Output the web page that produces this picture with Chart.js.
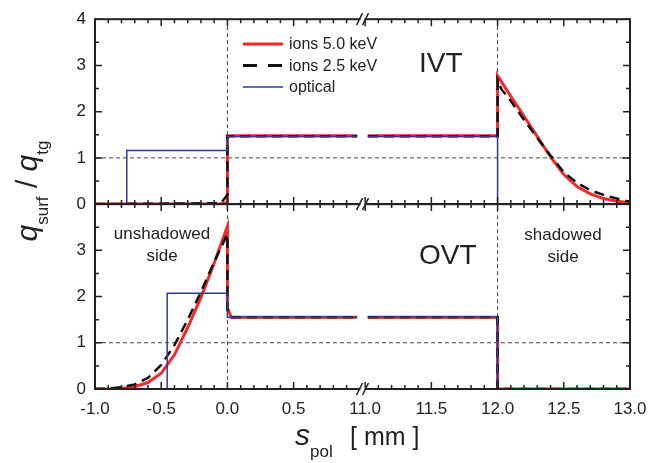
<!DOCTYPE html>
<html>
<head>
<meta charset="utf-8">
<script src="https://cdn.jsdelivr.net/npm/chart.js@4.4.1/dist/chart.umd.min.js"></script>
<style>
  body { margin: 0; background: #fff; }
  #wrap { width: 667px; height: 463px; }
</style>
</head>
<body>
<div id="wrap"><canvas id="myChart" width="667" height="463"></canvas></div>
<script>
// x values in mm (real s_pol), the axis is broken between 1.0 and 11.0
const xTickLabels = [-1.0, -0.5, 0.0, 0.5, 11.0, 11.5, 12.0, 12.5, 13.0];
const yTickLabels = [0, 1, 2, 3, 4];

// IVT (top panel)
const ivtRedX = [-1.0, -0.05, 0.0, 0.0, 0.98, 1.0, 11.02, 12.0, 12.0, 12.1, 12.2, 12.3, 12.4, 12.5, 12.6, 12.7, 12.8, 12.9, 13.0];
const ivtRedY = [0, 0.01, 0.03, 1.48, 1.48, null, 1.48, 1.48, 2.78, 2.33, 1.9, 1.46, 1.02, 0.64, 0.38, 0.22, 0.12, 0.06, 0.03];
const ivtBlackX = [-1.0, -0.05, 0.0, 0.0, 0.98, 1.0, 11.02, 12.0, 12.0, 12.03, 12.1, 12.2, 12.3, 12.4, 12.5, 12.6, 12.7, 12.8, 12.9, 13.0];
const ivtBlackY = [0, 0.02, 0.2, 1.47, 1.47, null, 1.47, 1.47, 2.68, 2.48, 2.23, 1.82, 1.43, 1.05, 0.69, 0.46, 0.3, 0.2, 0.12, 0.05];
const ivtBlueX = [-1.0, -0.76, -0.76, 0.0, 0.0, 0.98, 1.0, 11.02, 12.0, 12.0, 13.0];
const ivtBlueY = [0, 0, 1.16, 1.16, 1.46, 1.46, null, 1.46, 1.46, 0, 0];

// OVT (bottom panel)
const ovtRedX = [-1.0, -0.9, -0.8, -0.7, -0.6, -0.5, -0.4, -0.3, -0.2, -0.1, 0.0, 0.0, 0.03, 0.98, 1.0, 11.02, 12.0, 12.0, 13.0];
const ovtRedY = [0, 0, 0.01, 0.05, 0.14, 0.34, 0.74, 1.33, 1.98, 2.72, 3.52, 1.75, 1.55, 1.55, null, 1.55, 1.55, 0, 0];
const ovtBlackX = [-1.0, -0.9, -0.8, -0.7, -0.6, -0.5, -0.4, -0.3, -0.2, -0.1, 0.0, 0.0, 0.03, 0.98, 1.0, 11.02, 12.0, 12.0, 13.0];
const ovtBlackY = [0, 0.01, 0.04, 0.1, 0.24, 0.52, 0.95, 1.5, 2.1, 2.75, 3.35, 1.7, 1.55, 1.55, null, 1.55, 1.55, 0, 0];
const ovtBlueX = [-1.0, -0.455, -0.455, 0.0, 0.0, 0.98, 1.0, 11.02, 12.0, 12.0, 13.0];
const ovtBlueY = [0, 0, 2.07, 2.07, 1.55, 1.55, null, 1.55, 1.55, 0, 0];

const RED = '#f42828';
const BLACK = '#111111';
const BLUE = '#2c3c9c';
const FONT = '"Liberation Sans", Arial, sans-serif';
const TXT = '#222';

// axis break: map s to a continuous axis value
const brk = 0.04;
function mapS(s) {
    return s <= 1.0 ? s : s - 10 + brk;
}
function pts(xs, ys) {
    return xs.map((s, i) => ({ x: mapS(s), y: ys[i] }));
}

function line(label, xs, ys, axis, color, width, dash, order) {
    return {
        label: label,
        data: pts(xs, ys),
        yAxisID: axis,
        borderColor: color,
        backgroundColor: color,
        borderWidth: width,
        borderDash: dash,
        pointRadius: 0,
        tension: 0,
        order: order
    };
}

const decoPlugin = {
    id: 'deco',
    beforeDatasetsDraw(chart) {
        const ctx = chart.ctx;
        const ca = chart.chartArea;
        const x = chart.scales.x;
        ctx.save();
        ctx.strokeStyle = '#444';
        ctx.lineWidth = 1;
        ctx.setLineDash([4, 3]);
        ['yTop', 'yBot'].forEach(id => {
            const py = chart.scales[id].getPixelForValue(1);
            ctx.beginPath();
            ctx.moveTo(ca.left, py);
            ctx.lineTo(ca.right, py);
            ctx.stroke();
        });
        [0.0, 12.0].forEach(s => {
            const px = x.getPixelForValue(mapS(s));
            ctx.beginPath();
            ctx.moveTo(px, ca.top);
            ctx.lineTo(px, ca.bottom);
            ctx.stroke();
        });
        ctx.restore();
    },
    afterDatasetsDraw(chart) {
        const ctx = chart.ctx;
        const ca = chart.chartArea;
        const x = chart.scales.x;
        ctx.save();
        ctx.strokeStyle = '#222';
        ctx.lineWidth = 2;

        // x tick positions every 0.1 mm
        let xs = [];
        for (let i = -10; i <= 9; i++) xs.push(i / 10);
        for (let i = 110; i <= 130; i++) xs.push(i / 10);

        ['yTop', 'yBot'].forEach(id => {
            const sc = chart.scales[id];
            const top = sc.top, bot = sc.bottom;
            ctx.strokeRect(ca.left, top, ca.right - ca.left, bot - top);
            ctx.beginPath();
            xs.forEach(s => {
                const px = x.getPixelForValue(mapS(s));
                const major = Math.abs(s * 2 - Math.round(s * 2)) < 1e-6;
                const len = major ? 7 : 4;
                ctx.moveTo(px, bot); ctx.lineTo(px, bot - len);
                ctx.moveTo(px, top); ctx.lineTo(px, top + len);
            });
            for (let v = 0; v <= 4; v += 0.5) {
                const py = sc.getPixelForValue(v);
                const len = Number.isInteger(v) ? 7 : 4;
                ctx.moveTo(ca.left, py); ctx.lineTo(ca.left + len, py);
                ctx.moveTo(ca.right, py); ctx.lineTo(ca.right - len, py);
            }
            ctx.lineWidth = 1.5;
            ctx.stroke();
            ctx.lineWidth = 2;
        });

        // break marks //
        const bx = x.getPixelForValue(1.0 + brk / 2);
        ctx.lineWidth = 1.5;
        [ca.top, chart.scales.yTop.bottom, ca.bottom].forEach(by => {
            ctx.fillStyle = '#fff';
            ctx.fillRect(bx - 2, by - 2, 4, 4);
            ctx.beginPath();
            [-3, 3].forEach(d => {
                ctx.moveTo(bx + d - 3, by + 6);
                ctx.lineTo(bx + d + 3, by - 6);
            });
            ctx.stroke();
        });

        // legend
        const leg = [
            ['ions 5.0 keV', RED, 3, []],
            ['ions 2.5 keV', BLACK, 3, [14, 11]],
            ['optical', BLUE, 1.5, []]
        ];
        ctx.font = '16px ' + FONT;
        ctx.textBaseline = 'middle';
        ctx.textAlign = 'left';
        leg.forEach((l, i) => {
            const ly = 44 + i * 21.5;
            ctx.strokeStyle = l[1];
            ctx.lineWidth = l[2];
            ctx.setLineDash(l[3]);
            ctx.beginPath();
            ctx.moveTo(243, ly);
            ctx.lineTo(283, ly);
            ctx.stroke();
            ctx.setLineDash([]);
            ctx.fillStyle = TXT;
            ctx.fillText(l[0], 289, ly + 1);
        });

        // panel labels
        ctx.fillStyle = TXT;
        ctx.font = '28px ' + FONT;
        ctx.fillText('IVT', 419, 64);
        ctx.fillText('OVT', 419, 256);
        ctx.font = '17px ' + FONT;
        ctx.textAlign = 'center';
        ctx.fillText('unshadowed', 162, 234);
        ctx.fillText('side', 162, 256);
        ctx.fillText('shadowed', 563, 235);
        ctx.fillText('side', 563, 257);

        // axis titles with subscripts
        ctx.textAlign = 'left';
        ctx.textBaseline = 'alphabetic';
        const big = 'italic 30px ' + FONT;
        const sub = '17px ' + FONT;
        const norm = '30px ' + FONT;

        ctx.font = big;
        ctx.fillText('s', 295, 445);
        ctx.font = sub;
        ctx.fillText('pol', 310, 457);
        ctx.font = '25px ' + FONT;
        ctx.fillText('[ mm ]', 350, 445);

        const parts = [['q', big, 0], ['surf', sub, 11], [' / ', norm, 0], ['q', big, 0], ['tg', sub, 11]];
        let total = 0;
        parts.forEach(p => { ctx.font = p[1]; total += ctx.measureText(p[0]).width; });
        ctx.translate(37, 191);
        ctx.rotate(-Math.PI / 2);
        let cx = -total / 2;
        parts.forEach(p => {
            ctx.font = p[1];
            ctx.fillText(p[0], cx, p[2]);
            cx += ctx.measureText(p[0]).width;
        });
        ctx.restore();
    }
};

const ctx = document.getElementById('myChart');
const chart = new Chart(ctx, {
    type: 'line',
    data: {
        datasets: [
            line('ions 5.0 keV', ivtRedX, ivtRedY, 'yTop', RED, 3, [], 3),
            line('ions 2.5 keV', ivtBlackX, ivtBlackY, 'yTop', BLACK, 2.5, [10, 6], 2),
            line('optical', ivtBlueX, ivtBlueY, 'yTop', BLUE, 1.5, [], 1),
            line('ions 5.0 keV', ovtRedX, ovtRedY, 'yBot', RED, 3, [], 3),
            line('ions 2.5 keV', ovtBlackX, ovtBlackY, 'yBot', BLACK, 2.5, [10, 6], 2),
            line('optical', ovtBlueX, ovtBlueY, 'yBot', BLUE, 1.5, [], 1)
        ]
    },
    options: {
        responsive: false,
        animation: false,
        devicePixelRatio: 1,
        layout: { padding: { left: 0, right: 37, top: 14, bottom: 0 } },
        plugins: { legend: { display: false }, tooltip: { enabled: false } },
        scales: {
            x: {
                type: 'linear',
                position: 'bottom',
                min: -1,
                max: 3 + brk,
                grid: { display: false, drawTicks: false },
                border: { display: false },
                afterBuildTicks: sc => { sc.ticks = xTickLabels.map(s => ({ value: mapS(s) })); },
                afterFit: sc => { sc.height = 74; },
                ticks: {
                    autoSkip: false,
                    maxRotation: 0,
                    padding: 10,
                    color: TXT,
                    font: { family: FONT, size: 17 },
                    callback: (v, i) => xTickLabels[i].toFixed(1)
                }
            },
            yBot: {
                type: 'linear',
                position: 'left',
                stack: 'panels',
                stackWeight: 1,
                min: 0,
                max: 4,
                grid: { display: false, drawTicks: false },
                border: { display: false },
                afterBuildTicks: sc => { sc.ticks = yTickLabels.map(v => ({ value: v })); },
                afterFit: sc => { sc.width = 95; },
                ticks: {
                    padding: 9,
                    color: TXT,
                    font: { family: FONT, size: 17 },
                    callback: v => (v === 4 ? '' : v)
                }
            },
            yTop: {
                type: 'linear',
                position: 'left',
                stack: 'panels',
                stackWeight: 1,
                min: 0,
                max: 4,
                grid: { display: false, drawTicks: false },
                border: { display: false },
                afterBuildTicks: sc => { sc.ticks = yTickLabels.map(v => ({ value: v })); },
                afterFit: sc => { sc.width = 95; },
                ticks: {
                    padding: 9,
                    color: TXT,
                    font: { family: FONT, size: 17 },
                    callback: v => v
                }
            }
        }
    },
    plugins: [decoPlugin]
});
</script>
</body>
</html>
